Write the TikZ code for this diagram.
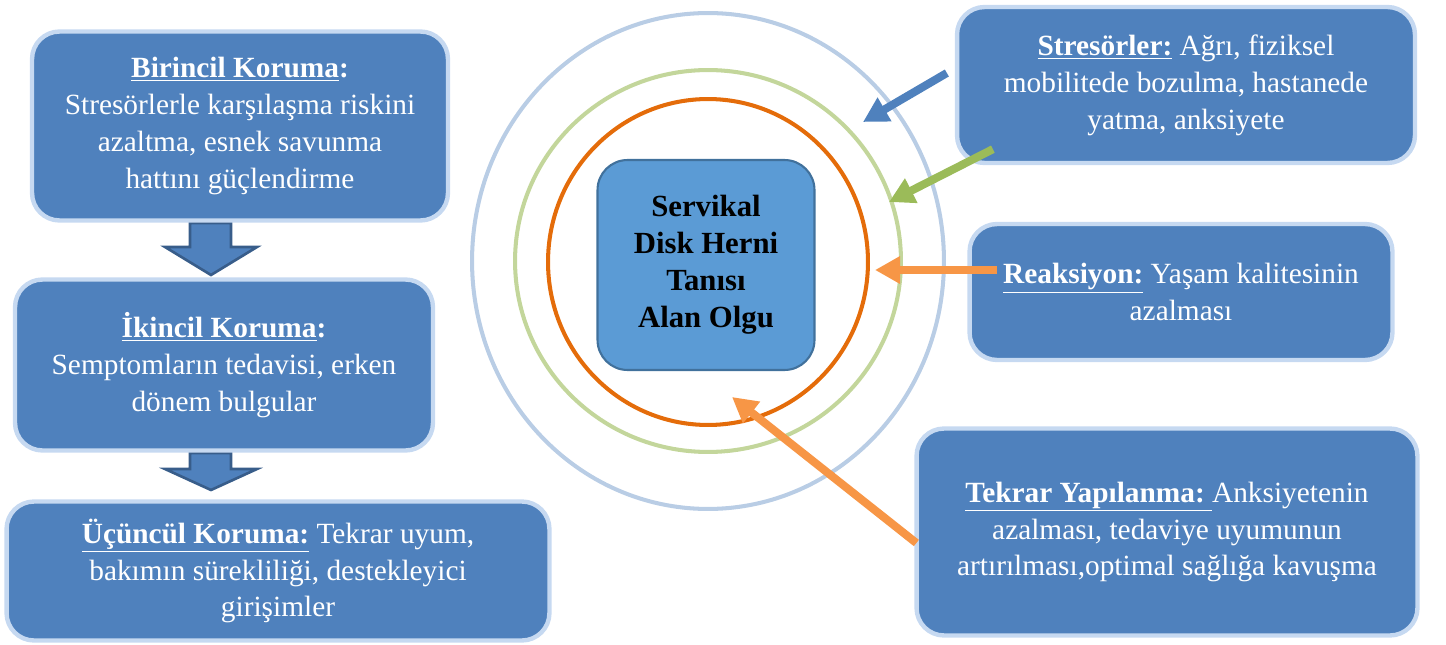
\documentclass[tikz,border=0pt]{standalone}
\usepackage{fontspec}
\setmainfont{Liberation Serif}
\usetikzlibrary{calc,arrows.meta}
\definecolor{kutu}{HTML}{4F81BD}
\definecolor{kutukoyu}{HTML}{385D8A}
\definecolor{kenar}{HTML}{C6D9F1}
\definecolor{merkez}{HTML}{5B9BD5}
\definecolor{merkezkenar}{HTML}{41719C}
\definecolor{daire1}{HTML}{B9CDE5}
\definecolor{daire2}{HTML}{C3D69B}
\definecolor{daire3}{HTML}{E46C0A}
\definecolor{ok1}{HTML}{4F81BD}
\definecolor{ok2}{HTML}{9BBB59}
\definecolor{ok3}{HTML}{F79646}
\tikzset{
	koruma/.style={draw=kenar,line width=2.5pt,fill=kutu,rounded corners=0.55cm,text=white,align=center,inner sep=0pt,font=\fontsize{16.7}{21}\selectfont},
	olgukutu/.style={draw=merkezkenar,line width=1.2pt,fill=merkez,rounded corners=0.6cm,align=center,inner sep=0pt,font=\bfseries\fontsize{17.5}{21}\selectfont},
	halka/.style={line width=2.3pt},
	okcizgi/.style={line width=4.6pt,-{Triangle[length=0.5cm,width=0.52cm]}},
	blokok/.style={fill=kutu,draw=kutukoyu,line width=1.5pt,line join=miter}
}
\begin{document}
\begin{tikzpicture}[x=0.02cm,y=-0.02cm]
			\useasboundingbox (0,0) rectangle (1446,645);
			\draw[halka,draw=daire1] (708,261) ellipse [x radius=4.72cm,y radius=4.96cm];
			\draw[halka,draw=daire2] (708,261) ellipse [x radius=3.86cm,y radius=3.82cm];
			\draw[halka,draw=daire3] (708,262) ellipse [x radius=3.2cm,y radius=3.26cm];
			\foreach \u/\b/\s in {223/247/275,453/469/490}
				\filldraw[blokok] (190,\u) -- (231,\u) -- (231,\b) -- (257,\b) -- (211,\s) -- (165,\b) -- (190,\b) -- cycle;
			\node[koruma,minimum width=8.32cm,minimum height=3.78cm] (birincil) at (240,126) {\textbf{\underline{Birincil Koruma}:}\\Stresörlerle karşılaşma riskini\\azaltma, esnek savunma\\hattını güçlendirme};
			\node[koruma,minimum width=8.36cm,minimum height=3.42cm] (ikincil) at (224,365) {\textbf{\underline{İkincil Koruma}:}\\Semptomların tedavisi, erken\\dönem bulgular};
			\node[koruma,minimum width=10.86cm,minimum height=2.78cm] (ucuncul) at (278,571) {\textbf{\underline{Üçüncül Koruma:}} Tekrar uyum,\\bakımın sürekliliği, destekleyici\\girişimler};
			\node[koruma,minimum width=9.16cm,minimum height=3.12cm] (stresor) at (1186,85) {\textbf{\underline{Stresörler:}} Ağrı, fiziksel\\mobilitede bozulma, hastanede\\yatma, anksiyete};
			\node[koruma,minimum width=8.46cm,minimum height=2.72cm] (reaksiyon) at (1181,292) {\textbf{\underline{Reaksiyon:}} Yaşam kalitesinin\\azalması};
			\node[koruma,minimum width=10.02cm,minimum height=4.14cm] (tekrar) at (1167,532) {\textbf{\underline{Tekrar Yapılanma:\ }}Anksiyetenin\\azalması, tedaviye uyumunun\\artırılması,optimal sağlığa kavuşma};
			\node[olgukutu,minimum width=4.34cm,minimum height=4.2cm] (olgu) at (706,265) {Servikal\\Disk Herni\\Tanısı\\Alan Olgu};
			\coordinate (d1) at (863,122);
			\coordinate (d2) at (889,202);
			\coordinate (d3) at (875,270);
			\coordinate (d4) at (732,397);
			\draw[okcizgi,draw=ok1,fill=ok1] ($(stresor.west)+(-8,-12)$) -- (d1);
			\draw[okcizgi,draw=ok2,fill=ok2] ($(stresor.south west)+(38,-16)$) -- (d2);
			\draw[okcizgi,draw=ok3,fill=ok3] ($(reaksiyon.west)+(30,-22)$) -- (d3);
			\draw[okcizgi,draw=ok3,fill=ok3] ($(tekrar.west)+(2,11)$) -- (d4);
		\end{tikzpicture}
\end{document}
